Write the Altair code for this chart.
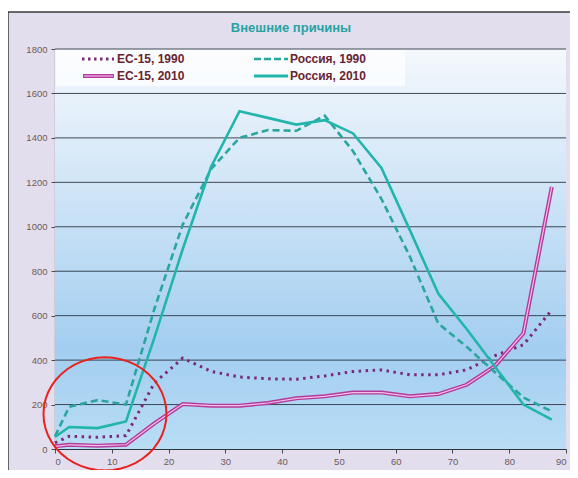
import math
import altair as alt
import pandas as pd

# ---- data ----
ages = [0, 2.5, 7.5, 12.5, 17.5, 22.5, 27.5, 32.5, 37.5, 42.5, 47.5, 52.5,
        57.5, 62.5, 67.5, 72.5, 77.5, 82.5, 87.5]
eu_1990 = [28, 57, 53, 60, 297, 409, 349, 324, 316, 314, 329, 349, 356, 334,
           334, 356, 420, 469, 626]
eu_2010 = [12, 19, 15, 19, 115, 202, 195, 195, 207, 228, 237, 254, 254, 237,
           247, 289, 374, 521, 1180]
rus_1990 = [57, 190, 220, 200, 630, 1010, 1260, 1400, 1435, 1432, 1500, 1340,
            1125, 866, 565, 460, 345, 232, 169]
rus_2010 = [54, 99, 94, 124, 500, 900, 1270, 1520, 1490, 1460, 1480, 1420,
            1265, 985, 700, 540, 370, 200, 132]

legend_labels = ["ЕС-15, 1990", "ЕС-15, 2010", "Россия, 1990", "Россия, 2010"]
title_text = "Внешние причины"
x_ticks = list(range(0, 91, 10))
y_ticks = list(range(0, 1801, 200))
circle_center = {"age": 8.8, "value": 158}

W, H = 511, 400
FONT = "Liberation Sans"
TEAL = "#22b5ac"
TEAL_D = "#2aa69f"
PURPLE = "#7b2a78"
MAGENTA = "#b43a9c"
PINK = "#f3c0e6"

def frame(vals):
    return pd.DataFrame({"age": ages, "value": vals})

xs = alt.X("age:Q", scale=alt.Scale(domain=[0, 90], nice=False),
           axis=alt.Axis(values=x_ticks, title=None, grid=False, tickSize=4,
                         labelPadding=3, format="d"))
ys = alt.Y("value:Q", scale=alt.Scale(domain=[0, 1800], nice=False),
           axis=alt.Axis(values=y_ticks, title=None, grid=False, tickSize=4,
                         labelPadding=4, format="d"))

one = alt.Data(values=[{}])

bg = alt.Chart(one).mark_rect(
    color=alt.LinearGradient(
        gradient="linear", x1=0, x2=0, y1=0, y2=1,
        stops=[alt.GradientStop(offset=0, color="#f4f8fc"),
               alt.GradientStop(offset=0.35, color="#d0e5f7"),
               alt.GradientStop(offset=0.75, color="#a3cef0"),
               alt.GradientStop(offset=1, color="#b9ddf5")])
).encode(x=alt.value(0), x2=alt.value(W), y=alt.value(0), y2=alt.value(H))

grid = alt.Chart(pd.DataFrame({"value": y_ticks[1:]})).mark_rule(
    color="#2c3742", strokeWidth=1, opacity=0.9
).encode(y="value:Q")

top_white = alt.Chart(one).mark_rect(color="white").encode(
    x=alt.value(-47), x2=alt.value(520), y=alt.value(-41), y2=alt.value(-37))
frame_h = alt.Chart(one).mark_rule(color="#3a3a3a", strokeWidth=1.5).encode(
    x=alt.value(-47), x2=alt.value(520), y=alt.value(-37))
frame_v = alt.Chart(one).mark_rule(color="#3a3a3a", strokeWidth=1.5).encode(
    x=alt.value(-47), y=alt.value(-37), y2=alt.value(425))

axes = alt.Chart(frame(rus_2010)).mark_line(opacity=0).encode(x=xs, y=ys)

l_eu90 = alt.Chart(frame(eu_1990)).mark_line(
    color=PURPLE, strokeWidth=3, strokeDash=[2.5, 4.5], strokeCap="butt"
).encode(x="age:Q", y="value:Q")
l_eu10a = alt.Chart(frame(eu_2010)).mark_line(color=MAGENTA, strokeWidth=4).encode(
    x="age:Q", y="value:Q")
l_eu10b = alt.Chart(frame(eu_2010)).mark_line(color=PINK, strokeWidth=1.2).encode(
    x="age:Q", y="value:Q")
l_ru90 = alt.Chart(frame(rus_1990)).mark_line(
    color=TEAL_D, strokeWidth=2.6, strokeDash=[7, 4]).encode(x="age:Q", y="value:Q")
l_ru10 = alt.Chart(frame(rus_2010)).mark_line(color=TEAL, strokeWidth=2.6).encode(
    x="age:Q", y="value:Q")

# legend box
leg_box = alt.Chart(one).mark_rect(color="#fafcfe", opacity=0.95).encode(
    x=alt.value(1), x2=alt.value(350), y=alt.value(1), y2=alt.value(37))
r1, r2 = 10, 27
s_eu90 = alt.Chart(one).mark_rule(color=PURPLE, strokeWidth=3, strokeDash=[2.5, 3.5],
                                  strokeCap="butt").encode(
    x=alt.value(27), x2=alt.value(59), y=alt.value(r1))
s_eu10a = alt.Chart(one).mark_rule(color=MAGENTA, strokeWidth=4).encode(
    x=alt.value(28), x2=alt.value(59), y=alt.value(r2))
s_eu10b = alt.Chart(one).mark_rule(color=PINK, strokeWidth=1.2).encode(
    x=alt.value(29), x2=alt.value(58), y=alt.value(r2))
s_ru90 = alt.Chart(one).mark_rule(color=TEAL_D, strokeWidth=2.6, strokeDash=[7, 3]).encode(
    x=alt.value(199), x2=alt.value(233), y=alt.value(r1))
s_ru10 = alt.Chart(one).mark_rule(color=TEAL, strokeWidth=3).encode(
    x=alt.value(199), x2=alt.value(233), y=alt.value(r2))

def ltext(txt, x, y):
    return alt.Chart(one).mark_text(
        text=txt, align="left", baseline="middle", font=FONT, fontSize=12,
        fontWeight="bold", color="#6a2430").encode(x=alt.value(x), y=alt.value(y))

t1 = ltext(legend_labels[0], 62, r1)
t2 = ltext(legend_labels[1], 62, r2)
t3 = ltext(legend_labels[2], 235, r1)
t4 = ltext(legend_labels[3], 235, r2)

title = alt.Chart(one).mark_text(
    text=title_text, align="center", baseline="middle", font=FONT, fontSize=13,
    fontWeight="bold", color="#27a3a3").encode(x=alt.value(236), y=alt.value(-21))

# red annotation ellipse (decoration)
pts = []
for i in range(49):
    a = 2 * math.pi * i / 48
    pts.append(f"{math.cos(a):.4f},{0.92 * math.sin(a):.4f}")
ellipse_path = "M" + " L".join(pts) + " Z"
circle = alt.Chart(alt.Data(values=[circle_center])).mark_point(
    shape=ellipse_path, filled=False, color="#e8231f", strokeWidth=2,
    size=123 ** 2, opacity=1
).encode(x="age:Q", y="value:Q")

chart = alt.layer(
    bg, grid, top_white, frame_h, frame_v, axes,
    l_eu90, l_eu10a, l_eu10b, l_ru90, l_ru10,
    leg_box, s_eu90, s_eu10a, s_eu10b, s_ru90, s_ru10, t1, t2, t3, t4,
    title, circle
).properties(
    width=W, height=H,
    autosize=alt.AutoSizeParams(type="none"),
    padding={"left": 47, "top": 41, "right": 4, "bottom": 21},
    background="#e2deee"
).configure_view(stroke=None).configure_axis(
    labelFont=FONT, labelFontSize=9.5, labelColor="#6e5a5a",
    domainColor="#2e3440", domainWidth=1.2, tickColor="#4a4a4a"
)

chart.save("out.html", embed_options={"renderer": "svg", "actions": False})
